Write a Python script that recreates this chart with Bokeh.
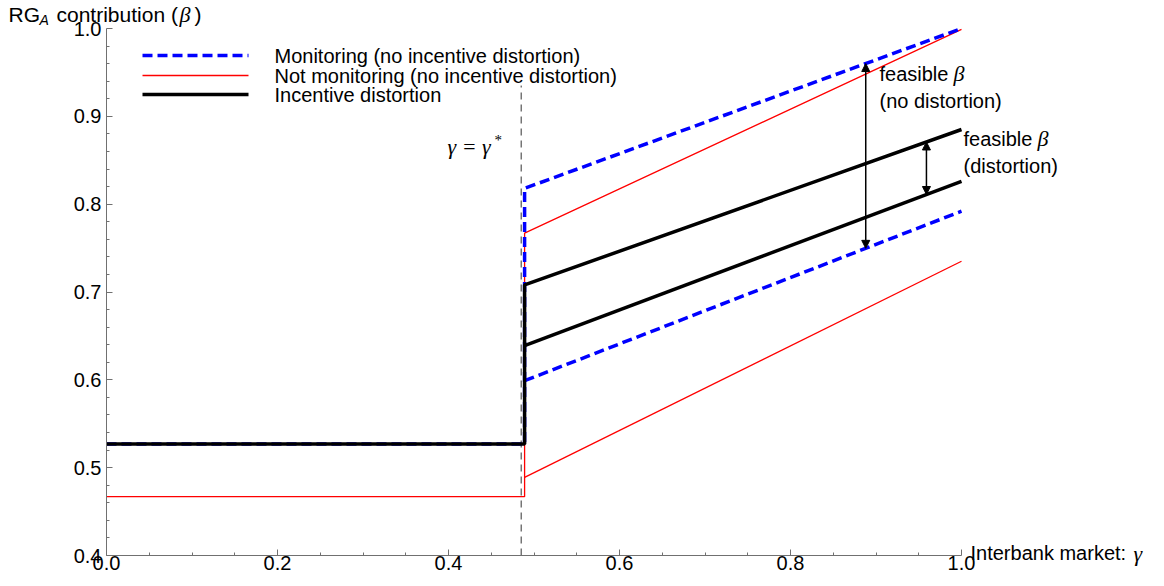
from bokeh.plotting import figure
from bokeh.models import (Range1d, FixedTicker, Label, Arrow, NormalHead,
                          PrintfTickFormatter)
from bokeh.embed import file_html
from bokeh.resources import INLINE

# ---------------- data ----------------
x_major_ticks = [0.0, 0.2, 0.4, 0.6, 0.8, 1.0]
x_minor_ticks = [0.05, 0.1, 0.15, 0.25, 0.3, 0.35, 0.45, 0.5, 0.55, 0.65, 0.7, 0.75,
                 0.85, 0.9, 0.95]
y_major_ticks = [0.4, 0.5, 0.6, 0.7, 0.8, 0.9, 1.0]
y_minor_ticks = [0.42, 0.44, 0.46, 0.48, 0.52, 0.54, 0.56, 0.58, 0.62, 0.64, 0.66, 0.68,
                 0.72, 0.74, 0.76, 0.78, 0.82, 0.84, 0.86, 0.88, 0.92, 0.94, 0.96, 0.98]

gamma_star = 0.485          # threshold gamma*
gamma_star_top = 0.935      # top of the dashed marker
gamma_jump = 0.489
x_left = [0.0, gamma_jump]
x_right = [gamma_jump, 1.0]

monitor_flat = [0.527, 0.527]
monitor_upper = [0.818, 1.000]
monitor_lower = [0.599, 0.792]

notmon_flat = [0.467, 0.467]
notmon_upper = [0.767, 0.999]
notmon_lower = [0.489, 0.735]

distort_flat = [0.527, 0.527]
distort_upper = [0.708, 0.885]
distort_lower = [0.639, 0.826]

arrow_wide_x = 0.888     # feasible beta (no distortion)
arrow_narrow_x = 0.959   # feasible beta (distortion)

labels = ["Monitoring (no incentive distortion)",
          "Not monitoring (no incentive distortion)",
          "Incentive distortion"]

# ---------------- layout helpers ----------------
W, H = 1160, 582          # figure size
OFF = 0                   # page offset of the canvas
PX0, PX1 = 106, 961       # page pixels of x = 0 and x = 1
PY0, PY1 = 555, 28        # page pixels of y = 0.4 and y = 1.0


def X(px):  # page pixel -> data x
    return (px - PX0) / (PX1 - PX0)


def Y(py):  # page pixel -> data y
    return 0.4 + (PY0 - py) / (PY0 - PY1) * 0.6


def interp(xs, ys, x):
    return ys[0] + (ys[1] - ys[0]) * (x - xs[0]) / (xs[1] - xs[0])


SANS = "Liberation Sans"
SERIF = "Liberation Serif"

p = figure(width=W, height=H, output_backend="svg", toolbar_location=None,
           x_range=Range1d(X(OFF), X(OFF + W)), y_range=Range1d(Y(OFF + H), Y(OFF)),
           min_border=0, min_border_left=0, min_border_right=0,
           min_border_top=0, min_border_bottom=0)
p.outline_line_color = None
p.grid.visible = False
p.background_fill_color = "white"
p.border_fill_color = "white"

p.xaxis.fixed_location = 0.4
p.yaxis.fixed_location = 0.0
p.xaxis.bounds = (0.0, 1.0)
p.yaxis.bounds = (0.4, 1.0)

for ax, maj, mnr in ((p.xaxis[0], x_major_ticks, x_minor_ticks),
                     (p.yaxis[0], y_major_ticks, y_minor_ticks)):
    ax.ticker = FixedTicker(ticks=maj, minor_ticks=mnr)
    ax.formatter = PrintfTickFormatter(format="%.1f")
    ax.axis_line_color = "#707070"
    ax.major_tick_line_color = "#707070"
    ax.minor_tick_line_color = "#707070"
    ax.major_tick_in = 6
    ax.major_tick_out = 0
    ax.minor_tick_in = 3
    ax.minor_tick_out = 0
    ax.major_label_text_font = SANS
    ax.major_label_text_font_size = "20px"
    ax.major_label_text_color = "black"
p.xaxis.major_label_standoff = 0
p.yaxis.major_label_standoff = 5

# threshold marker
p.line([gamma_star, gamma_star], [0.4, gamma_star_top], line_color="#333333",
       line_width=1, line_dash="7 5")

styles = {
    "blue": dict(line_color="#0000ff", line_width=3.5, line_dash="10 5"),
    "red": dict(line_color="#ff0000", line_width=1.3),
    "black": dict(line_color="black", line_width=3.5),
}

# Not monitoring (red)
p.line(x_left + x_right, notmon_flat + notmon_upper, **styles["red"])
p.line(x_right, notmon_lower, **styles["red"])

# Monitoring (blue dashed)
p.line(x_left + x_right, monitor_flat + monitor_upper, **styles["blue"])
p.line(x_right, monitor_lower, **styles["blue"])

# Incentive distortion (black)
p.line(x_left + x_right, distort_flat + distort_upper, **styles["black"])
p.line(x_right, distort_lower, **styles["black"])

# arrows
for ax_, lo, hi in ((arrow_wide_x, monitor_lower, monitor_upper),
                    (arrow_narrow_x, distort_lower, distort_upper)):
    p.add_layout(Arrow(x_start=ax_, y_start=interp(x_right, lo, ax_),
                       x_end=ax_, y_end=interp(x_right, hi, ax_),
                       line_width=1.5, line_color="black",
                       start=NormalHead(size=8, fill_color="black", line_color="black"),
                       end=NormalHead(size=8, fill_color="black", line_color="black")))


def lab(text, px, py, font=SANS, size="20px", style="normal", align="left"):
    p.add_layout(Label(x=X(px), y=Y(py), text=text, text_font=font, text_font_size=size,
                       text_font_style=style, text_align=align, text_baseline="middle",
                       text_color="black"))


# legend (swatches + labels)
for key, text, py in (("blue", labels[0], 55), ("red", labels[1], 75), ("black", labels[2], 94)):
    sw = dict(styles[key])
    if key == "red":
        sw["line_width"] = 1.6
    p.line([X(142), X(248)], [Y(py), Y(py)], **sw)
    lab(text, 274, py)

# y axis title
lab("RG", 8, 14, size="21px")
lab("A", 39, 19, size="14px", style="italic")
lab("contribution (", 56, 14, size="21px")
lab("β", 179, 14, font=SERIF, size="22px", style="italic")
lab(")", 194, 14, size="21px")

# x axis title
lab("Interbank market: ", 970, 552)
lab("γ", 1133, 553, font=SERIF, size="22px", style="italic")

# gamma star
lab("γ = γ", 447, 146, font=SERIF, size="22px", style="italic")
lab("*", 494, 139, font=SERIF, size="15px")

# feasible annotations
lab("feasible ", 879, 73)
lab("β", 953, 73, font=SERIF, size="22px", style="italic")
lab("(no distortion)", 879, 100)
lab("feasible ", 963, 138)
lab("β", 1037, 138, font=SERIF, size="22px", style="italic")
lab("(distortion)", 963, 165)

open("out.html", "w").write(file_html(p, INLINE))
